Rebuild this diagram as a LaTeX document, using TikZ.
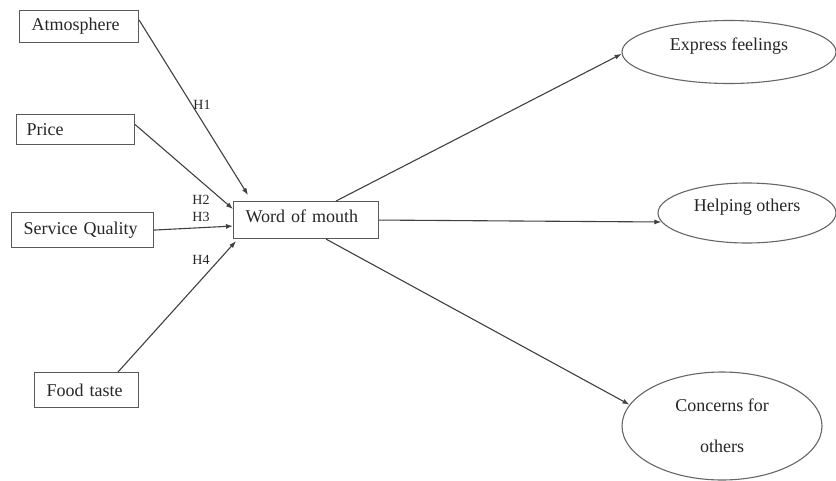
\documentclass[tikz,border=0pt]{standalone}
\usepackage{fontspec}
\setmainfont{Liberation Serif}
\usetikzlibrary{arrows.meta,shapes.geometric}

\begin{document}
\begin{tikzpicture}[
			x=1pt, y=-1pt,
			line width=1.1pt,
			every node/.style={text=black!85, font=\fontsize{18}{21}\selectfont},
			box/.style={draw=black!65, rectangle, anchor=north west, inner xsep=12pt, inner ysep=0pt, align=left},
			oval/.style={draw=black!60, ellipse, inner sep=0pt, align=center},
			link/.style={draw=black!75, -{Latex[length=7pt,width=5pt]}},
			hlab/.style={font=\fontsize{14}{16}\selectfont, inner sep=0pt}
		]
		\useasboundingbox (0,0) rectangle (836,480);

		% predictors
		\node[box, text width=95pt, minimum height=32pt] (atm) at (19,10) {Atmosphere};
		\node[box, text width=98pt, minimum height=30pt, inner xsep=10pt] (price) at (16,114) {Price};
		\node[box, text width=118pt, minimum height=35pt] (serv) at (11,212) {Service Quality};
		\node[box, text width=80pt, minimum height=35pt] (food) at (34,372) {Food taste};

		% mediator
		\node[box, text width=121pt, minimum height=37pt, text depth=8pt] (wom) at (233,201) {Word of mouth};

		% outcomes
		\node[oval, minimum width=214pt, minimum height=63pt, text depth=16pt] (feel) at (729,52) {Express feelings};
		\node[oval, minimum width=178pt, minimum height=60pt, text depth=16pt] (help) at (747,213) {Helping others};
		\node[oval, minimum width=200pt, minimum height=108pt] (care) at (722,426) {Concerns for\\[20pt] others};

		% hypotheses
		\draw[link] ([yshift=-10pt]atm.north east) -- ([xshift=15pt,yshift=6pt]wom.north west);
		\draw[link] ([yshift=5pt]price.east) -- ([yshift=11pt]wom.west);
		\draw[link] (serv.east) -- ([yshift=-6pt]wom.west);
		\draw[link] ([xshift=84pt]food.north west) -- ([xshift=3pt,yshift=-2pt]wom.south west);

		\node[hlab] (h1) at (202,105) {H1};
		\node[hlab] (h2) at (201,200) {H2};
		\node[hlab] (h3) at (201,217) {H3};
		\node[hlab] (h4) at (201,260) {H4};

		% outcomes of word of mouth
		\draw[link] ([xshift=30pt]wom.north) -- (feel.181);
		\draw[link] (wom.east) -- (help.186);
		\draw[link] ([xshift=20pt]wom.south) -- (care.167);
	\end{tikzpicture}
\end{document}
